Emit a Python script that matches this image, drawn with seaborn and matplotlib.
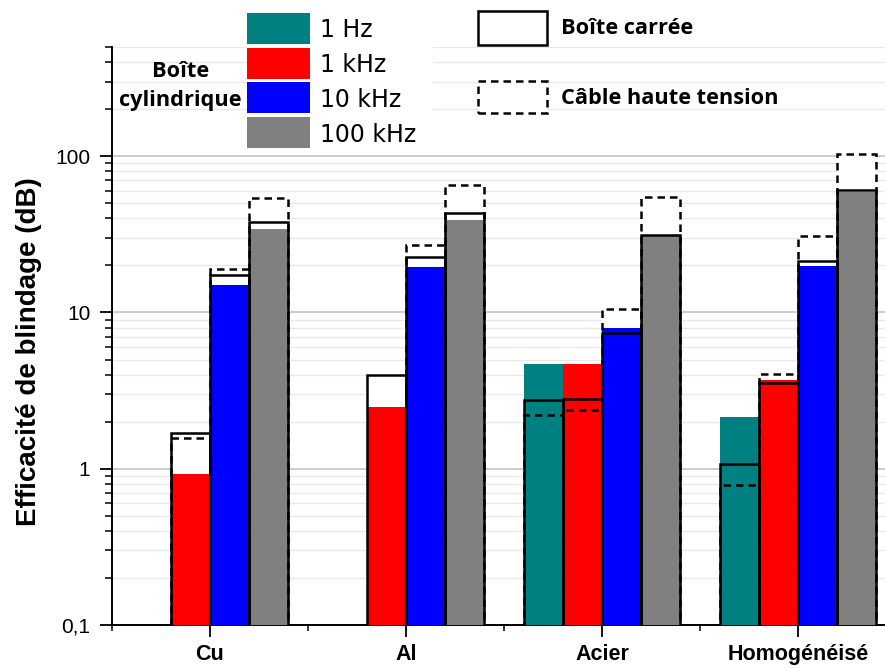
import numpy as np
import pandas as pd
import matplotlib
matplotlib.use("Agg")
import matplotlib.pyplot as plt
import seaborn as sns
from matplotlib.patches import Rectangle
from matplotlib.ticker import FixedLocator, LogLocator, NullFormatter

# Data
materiaux = ['Cu', 'Al', 'Acier', 'Homogénéisé']
frequences = ['1 Hz', '1 kHz', '10 kHz', '100 kHz']
couleurs = ['#008080', '#ff0000', '#0000ff', '#808080']

# Boîte cylindrique (filled bars)
cyl_1hz = [np.nan, np.nan, 4.65, 2.14]
cyl_1khz = [0.92, 2.48, 4.68, 3.68]
cyl_10khz = [15.0, 19.5, 7.9, 19.7]
cyl_100khz = [34.3, 39.3, 31.0, 58.8]

# Boîte carrée (solid outline)
car_1hz = [np.nan, np.nan, 2.74, 1.07]
car_1khz = [1.69, 4.0, 2.81, 3.53]
car_10khz = [17.5, 22.6, 7.37, 21.3]
car_100khz = [37.8, 43.4, 31.5, 60.8]

# Câble haute tension (dashed outline)
cab_1hz = [np.nan, np.nan, 2.20, 0.785]
cab_1khz = [1.58, np.nan, 2.39, 4.06]
cab_10khz = [19.0, 27.1, 10.6, 31.0]
cab_100khz = [54.1, 65.8, 54.6, 103.0]

ytick_vals = [0.1, 1, 10, 100]
ytick_labels = ['0,1', '1', '10', '100']


def long_table(series):
    rows = []
    for freq, vals in zip(frequences, series):
        for mat, v in zip(materiaux, vals):
            rows.append({'materiau': mat, 'freq': freq, 'valeur': v})
    return pd.DataFrame(rows).dropna()


df_cyl = long_table([cyl_1hz, cyl_1khz, cyl_10khz, cyl_100khz])
df_car = long_table([car_1hz, car_1khz, car_10khz, car_100khz])
df_cab = long_table([cab_1hz, cab_1khz, cab_10khz, cab_100khz])

W, H = 885, 668


def fx(px):
    return px / W


def fy(py):
    return 1 - py / H


fig = plt.figure(figsize=(W / 100, H / 100), dpi=100)
ax = fig.add_axes([fx(112), 43 / H, (W - 112) / W, 578 / H])

white = {f: 'white' for f in frequences}
black = {f: 'black' for f in frequences}
pal = dict(zip(frequences, couleurs))
common = dict(x='materiau', y='valeur', hue='freq', order=materiaux,
              hue_order=frequences, errorbar=None, legend=False,
              saturation=1, ax=ax)
lw = 1.8
dash = (0, (3.0, 2.0))

# white backgrounds of the outline boxes
sns.barplot(data=df_cab, palette=white, linewidth=0, zorder=2, **common)
sns.barplot(data=df_car, palette=white, linewidth=0, zorder=2, **common)
# filled bars
sns.barplot(data=df_cyl, palette=pal, linewidth=0, zorder=3, **common)
# outlines
sns.barplot(data=df_car, palette=black, fill=False, edgecolor='black',
            linewidth=lw, zorder=4, **common)
sns.barplot(data=df_cab, palette=black, fill=False, edgecolor='black',
            linewidth=lw, linestyle=dash, zorder=4.5, **common)

ax.set_yscale('log')
ax.set_ylim(0.1, 500)
ax.set_xlim(-0.5, 3.444)

ax.yaxis.set_major_locator(FixedLocator(ytick_vals))
ax.set_yticklabels(ytick_labels, family='Liberation Sans', fontsize=15)
ax.yaxis.set_minor_locator(LogLocator(base=10, subs=np.arange(2, 10)))
ax.yaxis.set_minor_formatter(NullFormatter())

ax.set_xticks(range(len(materiaux)))
ax.set_xticklabels(materiaux, family='Liberation Sans', fontweight='bold', fontsize=15.5)
ax.set_xticks([-0.5, 0.5, 1.5, 2.5], minor=True)
ax.set_xlabel('')

ax.set_ylabel('Efficacité de blindage (dB)', family='Liberation Sans',
              fontweight='bold', fontsize=20)
ax.yaxis.set_label_coords((42 - 112) / (W - 112), (625 - 352) / 578)

ax.tick_params(axis='y', which='major', direction='out', length=9, width=1.3, pad=6.5)
ax.tick_params(axis='y', which='minor', direction='out', length=5, width=1.1)
ax.tick_params(axis='x', which='major', direction='out', length=8.5, width=1.3, pad=5)
ax.tick_params(axis='x', which='minor', direction='out', length=4, width=1.1)

ax.set_axisbelow(True)
ax.grid(False)
ax.grid(which='major', axis='y', color='#c8c8c8', linewidth=1.3)
ax.grid(which='minor', axis='y', color='#e8e8e8', linewidth=1.0)

for side in ['top', 'right']:
    ax.spines[side].set_visible(False)
for side in ['left', 'bottom']:
    ax.spines[side].set_linewidth(1.4)
    ax.spines[side].set_color('black')

# legend: Boîte cylindrique
fig.add_artist(Rectangle((fx(247), fy(150)), (433 - 247) / W, (150 - 13) / H,
                         transform=fig.transFigure, facecolor='white',
                         edgecolor='none', zorder=5))
rows_top = [13, 48, 82, 117]
baselines = [37.3, 72.5, 107.3, 141.7]
for top, base, lab, c in zip(rows_top, baselines, frequences, couleurs):
    fig.add_artist(Rectangle((fx(247), fy(top + 31)), 63 / W, 31 / H,
                             transform=fig.transFigure, facecolor=c,
                             edgecolor='none', zorder=6))
    fig.text(fx(320), fy(base), lab, fontsize=17, family='DejaVu Sans',
             va='baseline', ha='left', zorder=7)
fig.text(fx(181), fy(77), 'Boîte', fontsize=15.7, family='Open Sans',
         fontweight='bold', ha='center', va='baseline', zorder=7)
fig.text(fx(180), fy(106), 'cylindrique', fontsize=15.7, family='Open Sans',
         fontweight='bold', ha='center', va='baseline', zorder=7)

# legend: Boîte carrée / Câble haute tension
fig.add_artist(Rectangle((fx(478), fy(45)), 69 / W, 34 / H,
                         transform=fig.transFigure, facecolor='white',
                         edgecolor='black', linewidth=lw, zorder=6))
fig.add_artist(Rectangle((fx(478), fy(113)), 69 / W, 32 / H,
                         transform=fig.transFigure, facecolor='white',
                         edgecolor='black', linewidth=lw,
                         linestyle=dash, zorder=6))
fig.text(fx(561), fy(34.3), 'Boîte carrée', fontsize=15.7, family='Open Sans',
         fontweight='bold', ha='left', va='baseline', zorder=7)
fig.text(fx(561), fy(104), 'Câble haute tension', fontsize=15.7, family='Open Sans',
         fontweight='bold', ha='left', va='baseline', zorder=7)

fig.savefig('out.png', dpi=100)
